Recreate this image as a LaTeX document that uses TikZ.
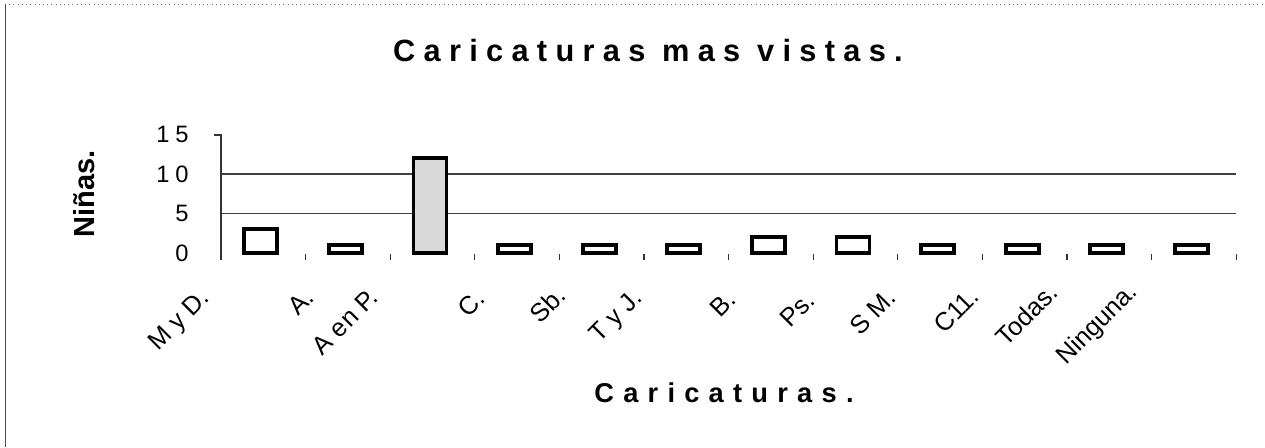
\documentclass[tikz,border=0pt]{standalone}
\usepackage{fontspec}
\setmainfont{Liberation Sans}
\newfontfamily\titlefont[LetterSpace=27]{Liberation Sans}
\newfontfamily\axisfont[LetterSpace=34]{Liberation Sans}
\newfontfamily\numfont[LetterSpace=25]{Liberation Sans}
\usetikzlibrary{positioning}

\begin{document}
\begin{tikzpicture}[x=0.02cm,y=-0.02cm,
   bar/.style={draw=black,line width=2.2pt},
   grid line/.style={draw=black!75,line width=0.6pt},
   cat/.style={rotate=45,anchor=base east,inner sep=0pt,font=\fontsize{14.5}{16}\selectfont},
   ylab/.style={anchor=east,inner sep=0pt,font=\numfont\fontsize{13.5}{15}\selectfont}]
   \useasboundingbox (0,0) rectangle (1265,447);
   % frame
   \draw[dotted,black!55] (5,4) -- (1265,4);
   \draw[black!70,line width=0.4pt] (5,4) -- (5,447);
   \node[font=\titlefont\bfseries\fontsize{17.5}{19}\selectfont] (title) at (648,51) {Caricaturas mas vistas.};
   % value axis
   \foreach \v in {5,10}
      \draw[grid line] (221,{253-7.9*\v}) -- (1236,{253-7.9*\v});
   \foreach \v in {0,5,10,15}
      \node[ylab] (y_\v) at (189,{253-7.9*\v}) {\v};
   \draw[black!80,line width=0.6pt] (221,134) -- (221,260);
   \draw[black!80,line width=0.6pt] (214,135) -- (221,135);
   \foreach \k in {1,...,12}
      \draw[black!80,line width=0.6pt] ({221+84.6*\k},254) -- ({221+84.6*\k},260);
   % bars
   \foreach \v/\c [count=\i] in {3/white,1/white,12/black!15,1/white,1/white,1/white,
                                 2/white,2/white,1/white,1/white,1/white,1/white}
      \draw[bar,fill=\c] ({221+84.6*(\i-0.5)-19},253) rectangle ({221+84.6*(\i-0.5)+14},{253-7.9*\v});
   % categories
   \node[cat] (c_1)  at (211,299) {M y D.};
   \node[cat] (c_2)  at (316,299) {A.};
   \node[cat] (c_3)  at (380,299) {A en P.};
   \node[cat] (c_4)  at (487,300) {C.};
   \node[cat] (c_5)  at (568,297) {Sb.};
   \node[cat] (c_6)  at (644,299) {T y J.};
   \node[cat] (c_7)  at (738,301) {B.};
   \node[cat] (c_8)  at (817,302) {Ps.};
   \node[cat] (c_9)  at (898,299) {S M.};
   \node[cat] (c_10) at (981,298) {C11.};
   \node[cat] (c_11) at (1060,294) {Todas.};
   \node[cat] (c_12) at (1139,293) {Ninguna.};
   % axis titles
   \node[font=\axisfont\bfseries\fontsize{15.5}{17}\selectfont] (x_title) at (724,393) {Caricaturas.};
   \node[rotate=90,font=\bfseries\fontsize{16.5}{18}\selectfont] (y_title) at (84,194) {Niñas.};
\end{tikzpicture}
\end{document}
